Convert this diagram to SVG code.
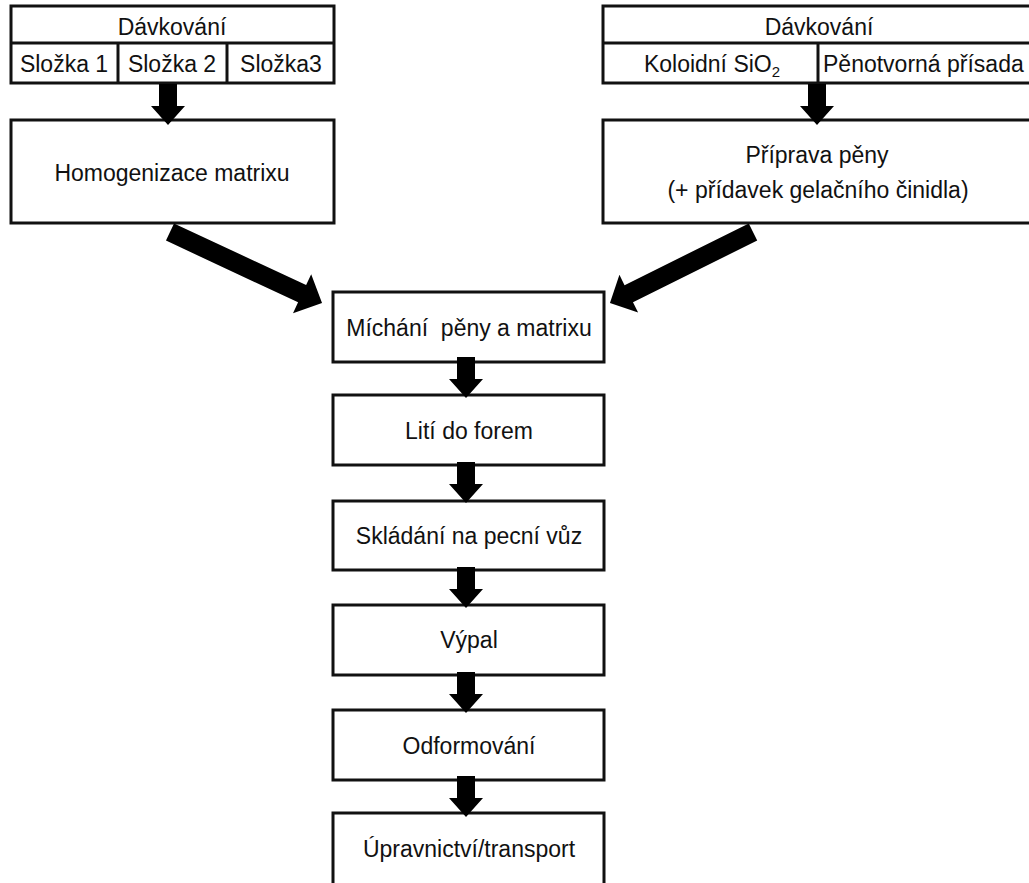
<svg xmlns="http://www.w3.org/2000/svg" width="1029" height="883" viewBox="0 0 1029 883">
  <style>
    .box { fill: #ffffff; stroke: #111111; stroke-width: 3; }
    .rule { stroke: #111111; stroke-width: 3; fill: none; }
    .lbl { font-family: "Liberation Sans", Arial, sans-serif; font-size: 23px; fill: #111111; }
    .mid { text-anchor: middle; }
    .arrow { fill: #000000; }
  </style>
  <defs>
    <!-- vertical block arrow, tip at origin pointing down -->
    <polygon id="down" points="-9,-41 9,-41 9,-19 17,-19 0,0 -17,-19 -9,-19"/>
  </defs>

  <!-- dosing table, left -->
  <g id="davkovani-1">
    <rect class="box" x="11" y="6" width="323" height="77"/>
    <line class="rule" x1="11" y1="43" x2="334" y2="43"/>
    <line class="rule" x1="118" y1="43" x2="118" y2="83"/>
    <line class="rule" x1="227" y1="43" x2="227" y2="83"/>
    <text class="lbl mid" x="172" y="35">Dávkování</text>
    <text class="lbl mid" x="64" y="72">Složka 1</text>
    <text class="lbl mid" x="172" y="72">Složka 2</text>
    <text class="lbl mid" x="281" y="72">Složka3</text>
  </g>

  <!-- dosing table, right -->
  <g id="davkovani-2">
    <rect class="box" x="603" y="6" width="435" height="77"/>
    <line class="rule" x1="603" y1="43" x2="1038" y2="43"/>
    <line class="rule" x1="818" y1="43" x2="818" y2="83"/>
    <text class="lbl mid" x="819" y="35">Dávkování</text>
    <text class="lbl mid" x="712" y="72">Koloidní SiO<tspan font-size="15" dy="5">2</tspan></text>
    <text class="lbl" x="823" y="72">Pěnotvorná přísada</text>
  </g>

  <g id="homogenizace">
    <rect class="box" x="11" y="120" width="323" height="103"/>
    <text class="lbl mid" x="172" y="181">Homogenizace matrixu</text>
  </g>

  <g id="priprava-peny">
    <rect class="box" x="603" y="120" width="435" height="103"/>
    <text class="lbl mid" x="817" y="163">Příprava pěny</text>
    <text class="lbl mid" x="818" y="198">(+ přídavek gelačního činidla)</text>
  </g>

  <g id="michani">
    <rect class="box" x="333" y="292" width="271" height="70"/>
    <text class="lbl mid" x="469" y="336" style="white-space:pre">Míchání  pěny a matrixu</text>
  </g>

  <g id="liti">
    <rect class="box" x="333" y="395" width="271" height="70"/>
    <text class="lbl mid" x="469" y="439">Lití do forem</text>
  </g>

  <g id="skladani">
    <rect class="box" x="333" y="501" width="271" height="69"/>
    <text class="lbl mid" x="469" y="544">Skládání na pecní vůz</text>
  </g>

  <g id="vypal">
    <rect class="box" x="333" y="605" width="271" height="70"/>
    <text class="lbl mid" x="469" y="648">Výpal</text>
  </g>

  <g id="odformovani">
    <rect class="box" x="333" y="710" width="271" height="70"/>
    <text class="lbl mid" x="469" y="754">Odformování</text>
  </g>

  <g id="upravnictvi">
    <rect class="box" x="333" y="813" width="271" height="80"/>
    <text class="lbl mid" x="469" y="857">Úpravnictví/transport</text>
  </g>

  <!-- connectors -->
  <g id="connectors" class="arrow">
    <use href="#down" x="168" y="125"/>
    <use href="#down" x="817" y="125"/>
    <g transform="translate(170,232) rotate(25.04)">
      <polygon points="0,-9.5 145.8,-9.5 145.8,-21.5 167.8,0 145.8,21.5 145.8,9.5 0,9.5"/>
    </g>
    <g transform="translate(753,232) rotate(153.6)">
      <polygon points="0,-9.5 138.7,-9.5 138.7,-21 159.7,0 138.7,21 138.7,9.5 0,9.5"/>
    </g>
    <use href="#down" x="466" y="398"/>
    <use href="#down" x="466" y="503"/>
    <use href="#down" x="466" y="608"/>
    <use href="#down" x="466" y="713"/>
    <use href="#down" x="466" y="817"/>
  </g>
</svg>
